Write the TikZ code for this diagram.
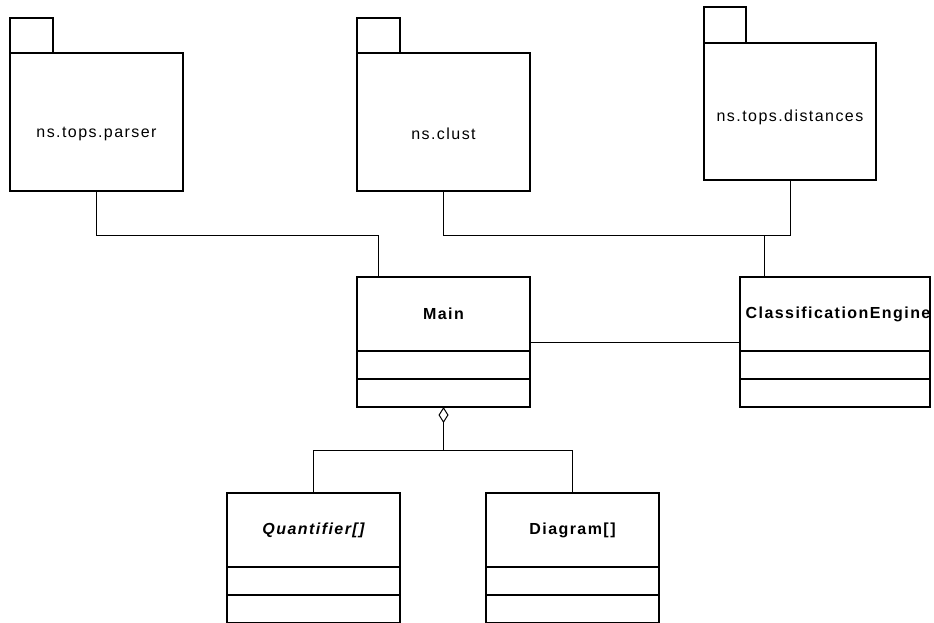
\documentclass[tikz,border=0pt]{standalone}
\usepackage{fontspec}
\setmainfont{Liberation Sans}[LetterSpace=9]
\usetikzlibrary{arrows.meta}
\begin{document}
\begin{tikzpicture}[x=1pt,y=-1pt,
  every node/.style={font=\fontsize{16}{19}\selectfont},
  pkgbody/.style={draw,line width=1.2pt,inner sep=0pt,outer sep=0pt,
    minimum width=173pt,minimum height=138pt},
  pkgtab/.style={draw,line width=1.2pt,inner sep=0pt,outer sep=0pt,
    minimum width=43pt,minimum height=35pt,anchor=south west},
  classbox/.style={draw,line width=1.2pt,inner sep=0pt,outer sep=0pt,
    minimum height=130pt},
  compart/.style={line width=1.2pt},
  conn/.style={line width=0.9pt},
  agg/.style={conn,-{Diamond[open,length=16pt,width=10pt,line width=1pt]}}
]
\useasboundingbox (0,0) rectangle (934,622);
\clip (0,0) rectangle (934,622);

% packages
\node[pkgbody] (pk1) at (96.5,122) {};
\node[pkgtab] (pk1tab) at (pk1.north west) {};
\node (pk1name) at (96.5,134) {ns.tops.parser};

\node[pkgbody] (pk2) at (443.5,122) {};
\node[pkgtab] (pk2tab) at (pk2.north west) {};
\node (pk2name) at (443.5,134) {ns.clust};

\node[pkgbody,minimum width=172pt,minimum height=137pt] (pk3) at (790,111.5) {};
\node[pkgtab,minimum width=42pt,minimum height=36pt] (pk3tab) at (pk3.north west) {};
\node (pk3name) at (790,117) {ns.tops.distances};

% classes
\node[classbox,minimum width=173pt] (main) at (443.5,342) {};
\draw[compart] (main.north west) ++(0,74) -- +(173,0);
\draw[compart] (main.north west) ++(0,102) -- +(173,0);
\node[font=\fontsize{16}{19}\selectfont\bfseries] (mainname) at ([yshift=-37pt]main.north) {Main};

\node[classbox,minimum width=190pt] (ce) at (835,342) {};
\draw[compart] (ce.north west) ++(0,74) -- +(190,0);
\draw[compart] (ce.north west) ++(0,102) -- +(190,0);
\node[font=\fontsize{16}{19}\selectfont\bfseries] (cename) at ([yshift=-37pt,xshift=3pt]ce.north) {ClassificationEngine};

\node[classbox,minimum width=173pt] (quant) at (313.5,558) {};
\draw[compart] (quant.north west) ++(0,74) -- +(173,0);
\draw[compart] (quant.north west) ++(0,102) -- +(173,0);
\node[font=\fontsize{16}{19}\selectfont\bfseries\itshape] (quantname) at ([yshift=-37pt]quant.north) {Quantifier[]};

\node[classbox,minimum width=173pt] (diag) at (572.5,558) {};
\draw[compart] (diag.north west) ++(0,74) -- +(173,0);
\draw[compart] (diag.north west) ++(0,102) -- +(173,0);
\node[font=\fontsize{16}{19}\selectfont\bfseries] (diagname) at ([yshift=-37pt]diag.north) {Diagram[]};

% connectors
\coordinate (j1) at (96.5,235);
\coordinate (j2) at (443.5,235);
\coordinate (j3) at (443.5,450);
\draw[conn] (pk1.south) -- (j1) -| ([xshift=21pt]main.north west);
\draw[conn] (pk2.south) -- (j2) -| (pk3.south);
\draw[conn] ([xshift=24pt]ce.north west) -- ([xshift=24pt]ce.north west |- j2);
\draw[conn] (main.east) -- (ce.west);
\draw[agg] (j3) -- (main.south);
\draw[conn] (quant.north) -- (quant.north |- j3) -- (diag.north |- j3) -- (diag.north);
\end{tikzpicture}
\end{document}
